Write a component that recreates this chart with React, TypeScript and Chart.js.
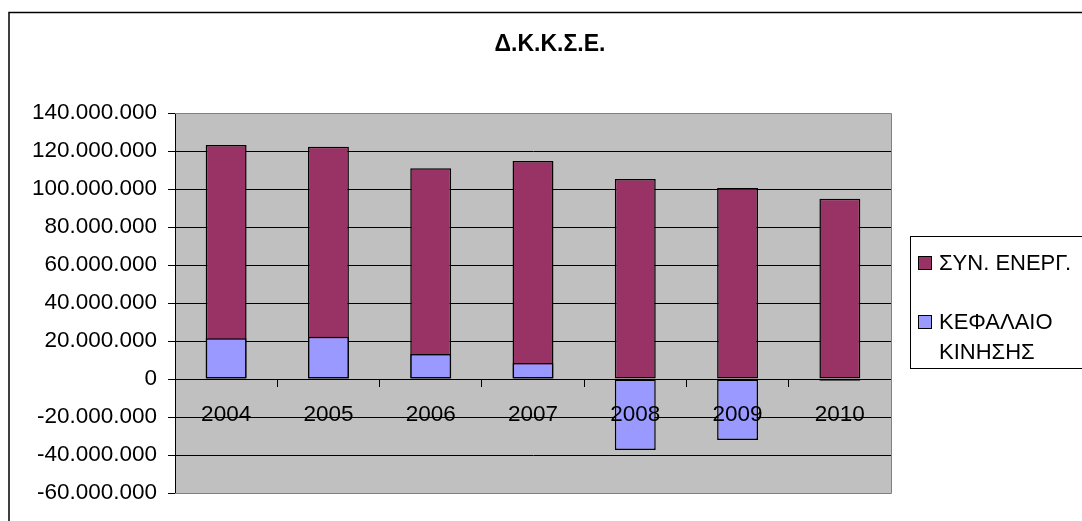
import React, { useEffect, useRef } from "react";
import { Chart, registerables } from "chart.js";

Chart.register(...registerables);

const title = "Δ.Κ.Κ.Σ.Ε.";
const years = ["2004", "2005", "2006", "2007", "2008", "2009", "2010"];
const totalAssetsLabel = "ΣΥΝ. ΕΝΕΡΓ.";
const totalAssets = [123200000, 122300000, 110900000, 114700000, 105300000, 100500000, 94900000];
const workingCapitalLabel = ["ΚΕΦΑΛΑΙΟ", "ΚΙΝΗΣΗΣ"];
const workingCapital = [21400000, 22300000, 13200000, 8400000, -37400000, -32100000, -900000];
const yMin = -60000000;
const yMax = 140000000;
const yStep = 20000000;

const FONT = "'Liberation Sans', Arial, sans-serif";
const PURPLE = "#993366";
const BLUE = "#9999FF";

function fmt(v: number): string {
  const neg = v < 0;
  const s = Math.abs(Math.round(v)).toString().replace(/\B(?=(\d{3})+(?!\d))/g, ".");
  return (neg ? "-" : "") + s;
}

const decorPlugin = {
  id: "decor",
  beforeDraw(chart: any) {
    const { ctx, chartArea } = chart;
    ctx.save();
    ctx.fillStyle = "#ffffff";
    ctx.fillRect(0, 0, chart.width, chart.height);
    // outer frame
    ctx.strokeStyle = "#000000";
    ctx.lineWidth = 1.5;
    ctx.beginPath();
    ctx.moveTo(9, chart.height + 10);
    ctx.lineTo(9, 12.5);
    ctx.lineTo(chart.width + 10, 12.5);
    ctx.stroke();
    // plot background
    ctx.fillStyle = "#C0C0C0";
    ctx.fillRect(chartArea.left, chartArea.top, chartArea.right - chartArea.left, chartArea.bottom - chartArea.top);
    ctx.restore();
  },
  beforeDatasetsDraw(chart: any) {
    const { ctx, chartArea } = chart;
    ctx.save();
    ctx.strokeStyle = "#808080";
    ctx.lineWidth = 1;
    const t = Math.round(chartArea.top) + 0.5;
    const r = Math.round(chartArea.right) + 0.5;
    const b = Math.round(chartArea.bottom) + 0.5;
    ctx.beginPath();
    ctx.moveTo(chartArea.left, t);
    ctx.lineTo(r, t);
    ctx.lineTo(r, b);
    ctx.lineTo(chartArea.left, b);
    ctx.stroke();
    ctx.restore();
  },
  afterDraw(chart: any) {
    const { ctx } = chart;
    ctx.save();
    // title
    ctx.fillStyle = "#000000";
    ctx.font = `bold 23px ${FONT}`;
    ctx.textAlign = "center";
    ctx.textBaseline = "middle";
    ctx.fillText(title, 550, 45);
    // legend box
    ctx.strokeStyle = "#000000";
    ctx.lineWidth = 1;
    ctx.strokeRect(910.5, 236.5, 200, 132);
    ctx.font = `22px ${FONT}`;
    ctx.textAlign = "left";
    ctx.textBaseline = "middle";
    const items = [
      { color: PURPLE, lines: [totalAssetsLabel], y: 263 },
      { color: BLUE, lines: workingCapitalLabel, y: 322 },
    ];
    items.forEach((it) => {
      ctx.fillStyle = it.color;
      ctx.fillRect(918, it.y - 7, 14, 14);
      ctx.strokeStyle = "#000000";
      ctx.lineWidth = 1;
      ctx.strokeRect(918.5, it.y - 6.5, 13, 13);
      ctx.fillStyle = "#000000";
      it.lines.forEach((ln, i) => ctx.fillText(ln, 939, it.y + 1 + i * 30));
    });
    ctx.restore();
  },
};

export default function App() {
  const ref = useRef<HTMLCanvasElement | null>(null);
  useEffect(() => {
    if (!ref.current) return;
    const chart = new Chart(ref.current, {
      type: "bar",
      data: {
        labels: years,
        datasets: [
          {
            label: totalAssetsLabel,
            data: totalAssets,
            backgroundColor: PURPLE,
            borderColor: "#000000",
            borderWidth: 1.5,
            borderSkipped: false,
            order: 2,
          },
          {
            label: workingCapitalLabel.join(" "),
            data: workingCapital,
            backgroundColor: BLUE,
            borderColor: "#000000",
            borderWidth: 1.5,
            borderSkipped: false,
            order: 1,
          },
        ],
      },
      options: {
        responsive: false,
        animation: false,
        devicePixelRatio: 1,
        layout: { padding: { left: 0, top: 113, right: 191, bottom: 28 } },
        datasets: { bar: { categoryPercentage: 0.4, barPercentage: 1 } },
        plugins: {
          legend: { display: false },
          title: { display: false },
          tooltip: { enabled: false },
        },
        scales: {
          x: {
            stacked: true,
            position: { y: 0 } as any,
            grid: {
              display: true,
              drawOnChartArea: false,
              drawTicks: true,
              tickLength: 7,
              color: "#000000",
              offset: true,
            },
            border: { display: true, color: "#000000", width: 1 },
            ticks: {
              z: 1,
              color: "#000000",
              font: { family: FONT, size: 22.5 },
              padding: 15,
              maxRotation: 0,
              autoSkip: false,
            },
          },
          y: {
            stacked: false,
            min: yMin,
            max: yMax,
            afterFit: (scale: any) => {
              scale.width = 175;
            },
            grid: {
              color: (c: any) =>
                c.tick && (c.tick.value === yMax || c.tick.value === yMin) ? "#808080" : "#000000",
              tickColor: "#000000",
              tickLength: 7,
              lineWidth: 1,
            },
            border: { display: true, color: "#000000", width: 1 },
            ticks: {
              stepSize: yStep,
              color: "#000000",
              font: { family: FONT, size: 22.5 },
              padding: 11,
              callback: (v: any) => fmt(Number(v)),
            },
          },
        },
      },
      plugins: [decorPlugin],
    });
    return () => chart.destroy();
  }, []);
  return (
    <div style={{ position: "absolute", left: 0, top: 0, width: 1082, height: 521 }}>
      <canvas ref={ref} width={1082} height={521} style={{ display: "block", width: 1082, height: 521 }} />
    </div>
  );
}
